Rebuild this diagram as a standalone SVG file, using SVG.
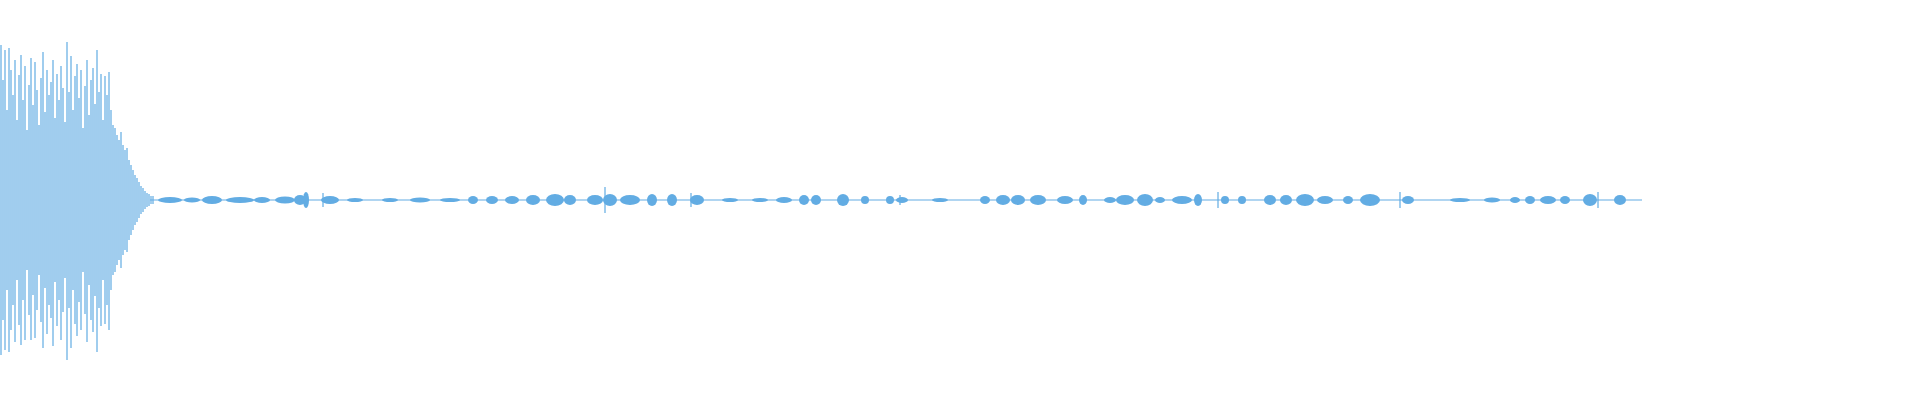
<svg xmlns="http://www.w3.org/2000/svg" width="1920" height="400" viewBox="0 0 1920 400">
<style>.w{stroke:#62ace3;stroke-width:1.2;fill:none}.b{fill:#62ace3}</style>
<rect width="1920" height="400" fill="#fff"/>
<path class="w" d="M1 45V355M3 80V320M5 50V350M7 110V290M9 48V352M11 70V330M13 95V305M15 60V342M17 120V280M19 75V325M21 55V345M23 100V300M25 66V340M27 130V270M29 85V315M31 58V340M33 105V295M35 62V338M37 90V310M39 125V275M41 78V322M43 52V348M45 112V288M47 70V334M49 95V305M51 82V318M53 60V346M55 118V282M57 74V326M59 100V300M61 66V340M63 88V312M65 122V278M67 42V360M69 92V308M71 56V348M73 110V290M75 76V324M77 64V336M79 98V302M81 70V330M83 128V272M85 86V314M87 60V342M89 115V285M91 80V320M93 68V332M95 104V296M97 50V352M99 92V308M101 74V326M103 120V280M105 76V324M107 95V305M109 72V330M111 110V290M113 125V275M115 128V272M117 135V265M119 140V260M121 132V268M123 145V255M125 150V250M127 148V252M129 160V240M131 165V235M133 170V230M135 175V225M137 178V222M139 182V218M141 186V214M143 188V212M145 191V209M147 193V207M149 194V206M151 196V204M153 196V204"/>
<path class="w" d="M150 200H1642" stroke-width="1"/>
<g class="b">
<ellipse cx="170" cy="200" rx="12" ry="3"/><ellipse cx="192" cy="200" rx="8" ry="2.5"/><ellipse cx="212" cy="200" rx="10" ry="4"/><ellipse cx="240" cy="200" rx="14" ry="3"/><ellipse cx="262" cy="200" rx="8" ry="3"/><ellipse cx="285" cy="200" rx="10" ry="3.5"/><ellipse cx="300" cy="200" rx="6" ry="5"/><ellipse cx="306" cy="200" rx="3" ry="8"/><ellipse cx="330" cy="200" rx="9" ry="4"/>
<ellipse cx="355" cy="200" rx="8" ry="2"/><ellipse cx="390" cy="200" rx="8" ry="2"/><ellipse cx="420" cy="200" rx="10" ry="2.5"/><ellipse cx="450" cy="200" rx="10" ry="2"/><ellipse cx="473" cy="200" rx="5" ry="4"/><ellipse cx="492" cy="200" rx="6" ry="4"/><ellipse cx="512" cy="200" rx="7" ry="4"/><ellipse cx="533" cy="200" rx="7" ry="5"/><ellipse cx="555" cy="200" rx="9" ry="6"/><ellipse cx="570" cy="200" rx="6" ry="5"/>
<ellipse cx="595" cy="200" rx="8" ry="5"/><ellipse cx="610" cy="200" rx="7" ry="6"/><ellipse cx="630" cy="200" rx="10" ry="5"/><ellipse cx="652" cy="200" rx="5" ry="6"/><ellipse cx="672" cy="200" rx="5" ry="6"/><ellipse cx="697" cy="200" rx="7" ry="5"/><ellipse cx="730" cy="200" rx="8" ry="2"/><ellipse cx="760" cy="200" rx="8" ry="2"/><ellipse cx="784" cy="200" rx="8" ry="3"/><ellipse cx="804" cy="200" rx="5" ry="5"/><ellipse cx="816" cy="200" rx="5" ry="5"/><ellipse cx="843" cy="200" rx="6" ry="6"/><ellipse cx="865" cy="200" rx="4" ry="4"/><ellipse cx="890" cy="200" rx="4" ry="4"/><ellipse cx="902" cy="200" rx="6" ry="3"/>
<ellipse cx="940" cy="200" rx="8" ry="2"/><ellipse cx="985" cy="200" rx="5" ry="4"/><ellipse cx="1003" cy="200" rx="7" ry="5"/><ellipse cx="1018" cy="200" rx="7" ry="5"/><ellipse cx="1038" cy="200" rx="8" ry="5"/><ellipse cx="1065" cy="200" rx="8" ry="4"/><ellipse cx="1083" cy="200" rx="4" ry="5"/><ellipse cx="1110" cy="200" rx="6" ry="3"/><ellipse cx="1125" cy="200" rx="9" ry="5"/><ellipse cx="1145" cy="200" rx="8" ry="6"/><ellipse cx="1160" cy="200" rx="5" ry="3"/><ellipse cx="1182" cy="200" rx="10" ry="4"/><ellipse cx="1198" cy="200" rx="4" ry="6"/><ellipse cx="1225" cy="200" rx="4" ry="4"/><ellipse cx="1242" cy="200" rx="4" ry="4"/>
<ellipse cx="1270" cy="200" rx="6" ry="5"/><ellipse cx="1286" cy="200" rx="6" ry="5"/><ellipse cx="1305" cy="200" rx="9" ry="6"/><ellipse cx="1325" cy="200" rx="8" ry="4"/><ellipse cx="1348" cy="200" rx="5" ry="4"/><ellipse cx="1370" cy="200" rx="10" ry="6"/><ellipse cx="1408" cy="200" rx="6" ry="4"/><ellipse cx="1460" cy="200" rx="10" ry="2"/><ellipse cx="1492" cy="200" rx="8" ry="2.5"/><ellipse cx="1515" cy="200" rx="5" ry="3"/><ellipse cx="1530" cy="200" rx="5" ry="4"/><ellipse cx="1548" cy="200" rx="8" ry="4"/><ellipse cx="1565" cy="200" rx="5" ry="4"/><ellipse cx="1590" cy="200" rx="7" ry="6"/><ellipse cx="1620" cy="200" rx="6" ry="5"/>
</g>
<path class="w" d="M323 193V207M605 187V213M691 193V207M900 195V205M1218 192V208M1400 192V208M1598 192V208"/>
</svg>
